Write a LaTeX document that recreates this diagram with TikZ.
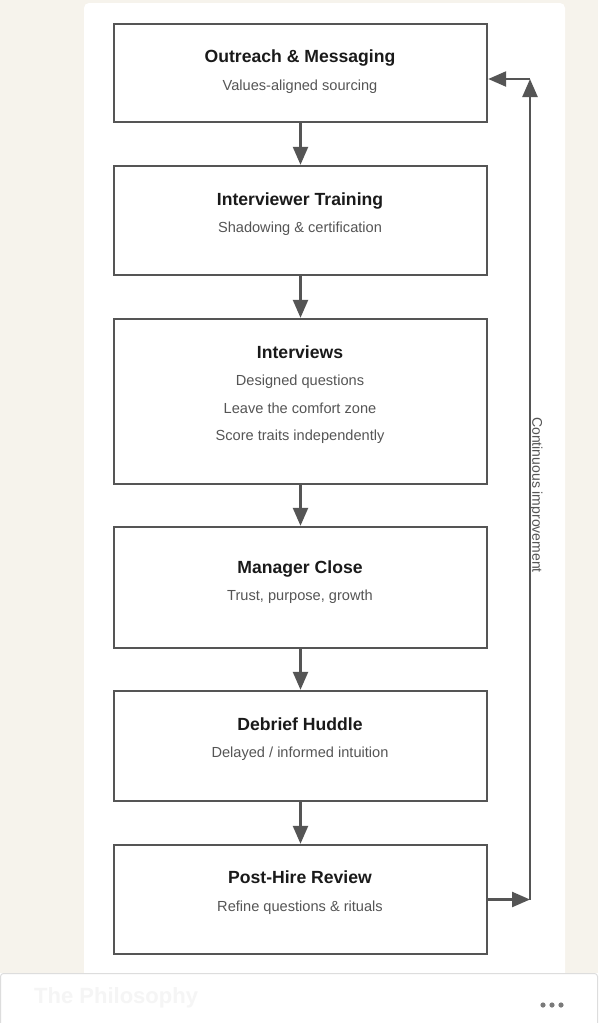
\documentclass[tikz,border=0pt]{standalone}
\usepackage{fontspec}
\setmainfont{Liberation Sans}
\usetikzlibrary{arrows.meta}
\definecolor{bgc}{HTML}{F6F3EC}
\definecolor{linec}{HTML}{555555}
\definecolor{titlec}{HTML}{1A1A1A}
\definecolor{subc}{HTML}{555555}
\definecolor{barline}{HTML}{DDDDDD}
\definecolor{ghost}{HTML}{F5F5F5}
\definecolor{dotc}{HTML}{7A7A7A}
\begin{document}
\begin{tikzpicture}[x=1pt,y=-1pt,
  stepbox/.style={draw=linec,line width=2.4pt,fill=white,minimum width=373pt,inner sep=0pt},
  ttl/.style={font=\fontsize{17.6}{20}\selectfont\bfseries,text=titlec,inner sep=0pt,text height=12.6pt,text depth=0pt},
  sub/.style={font=\fontsize{14.6}{17}\selectfont,text=subc,inner sep=0pt,text height=10pt,text depth=0pt},
  arr/.style={draw=linec,line width=2.4pt,-{Triangle[length=18pt,width=15pt]}},
  lbl/.style={font=\fontsize{14}{16}\selectfont,text=subc,inner sep=0pt}]
\useasboundingbox (0,0) rectangle (598,1023);
\fill[bgc] (0,0) rectangle (598,1023);
\fill[white,rounded corners=5pt] (84,3) rectangle (565,980);
% boxes
\node[stepbox,minimum height=98pt] (b1) at (300.5,73) {};
\node[stepbox,minimum height=109pt] (b2) at (300.5,220.5) {};
\node[stepbox,minimum height=165pt] (b3) at (300.5,401.5) {};
\node[stepbox,minimum height=121pt] (b4) at (300.5,587.5) {};
\node[stepbox,minimum height=110pt] (b5) at (300.5,746) {};
\node[stepbox,minimum height=109pt] (b6) at (300.5,899.5) {};
% texts
\node[ttl] (t1) at (300,56) {Outreach \& Messaging};
\node[sub] (s1) at (300,85) {Values-aligned sourcing};
\node[ttl] (t2) at (300,199) {Interviewer Training};
\node[sub] (s2) at (300,227) {Shadowing \& certification};
\node[ttl] (t3) at (300,352) {Interviews};
\node[sub] (s3a) at (300,380) {Designed questions};
\node[sub] (s3b) at (300,408) {Leave the comfort zone};
\node[sub] (s3c) at (300,435) {Score traits independently};
\node[ttl] (t4) at (300,567) {Manager Close};
\node[sub] (s4) at (300,595) {Trust, purpose, growth};
\node[ttl] (t5) at (300,724) {Debrief Huddle};
\node[sub] (s5) at (300,752) {Delayed / informed intuition};
\node[ttl] (t6) at (300,877) {Post-Hire Review};
\node[sub] (s6) at (300,906) {Refine questions \& rituals};
% arrows
\draw[arr] (b1.south) -- (b2.north);
\draw[arr] (b2.south) -- (b3.north);
\draw[arr] (b3.south) -- (b4.north);
\draw[arr] (b4.south) -- (b5.north);
\draw[arr] (b5.south) -- (b6.north);
% feedback loop
\coordinate (c1) at (530,899.5);
\coordinate (c2) at (530,79);
\draw[arr] (b6.east) -- (c1);
\draw[arr] (c1) -- (c2);
\draw[arr] (c2) -- (b1.east |- c2);
\node[lbl,rotate=-90] (loop) at (536,495) {Continuous improvement};
% bottom bar
\fill[white] (0,973) rectangle (598,1023);
\draw[barline,line width=1pt,rounded corners=3pt] (0.5,1030) -- (0.5,973.5) -- (597.5,973.5) -- (597.5,1030);
\node[font=\fontsize{22}{26}\selectfont\bfseries,text=ghost,anchor=west,inner sep=0pt] (ph) at (34,998) {The Philosophy};
\fill[dotc] (543,1005) circle (2.6pt);
\fill[dotc] (552,1005) circle (2.6pt);
\fill[dotc] (561,1005) circle (2.6pt);
\end{tikzpicture}
\end{document}
